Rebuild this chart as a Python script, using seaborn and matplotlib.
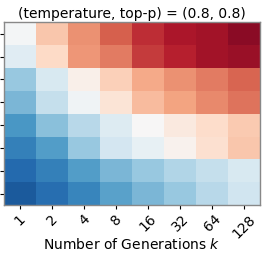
import numpy as np
import pandas as pd
import seaborn as sns
import matplotlib.pyplot as plt

# number of generations (columns) and 8 unlabeled rows
gens = [1, 2, 4, 8, 16, 32, 64, 128]

row0 = [0.49, 0.64, 0.73, 0.80, 0.87, 0.91, 0.92, 0.95]
row1 = [0.44, 0.60, 0.72, 0.76, 0.85, 0.89, 0.92, 0.93]
row2 = [0.31, 0.42, 0.53, 0.62, 0.69, 0.73, 0.76, 0.79]
row3 = [0.27, 0.38, 0.48, 0.57, 0.66, 0.70, 0.74, 0.77]
row4 = [0.21, 0.29, 0.36, 0.43, 0.50, 0.55, 0.59, 0.63]
row5 = [0.16, 0.22, 0.31, 0.41, 0.46, 0.52, 0.58, 0.64]
row6 = [0.11, 0.16, 0.22, 0.27, 0.31, 0.35, 0.38, 0.42]
row7 = [0.08, 0.12, 0.17, 0.23, 0.27, 0.31, 0.36, 0.40]

df = pd.DataFrame([row0, row1, row2, row3, row4, row5, row6, row7], columns=gens)

fig = plt.figure(figsize=(2.63, 2.63), dpi=100)
ax = fig.add_axes([0.015, 0.22, 0.975, 0.695])

sns.heatmap(df, cmap='RdBu_r', vmin=0, vmax=1, cbar=False, ax=ax,
            xticklabels=[str(g) for g in gens], yticklabels=[''] * 8)

for s in ax.spines.values():
    s.set_visible(True)
    s.set_color('#888888')
    s.set_linewidth(1)

ax.tick_params(axis='y', length=3, width=0.8)
ax.tick_params(axis='x', length=3, width=0.8, pad=2)
plt.setp(ax.get_xticklabels(), rotation=45, ha='center', fontsize=10)
ax.set_xlabel('Number of Generations $k$', fontsize=10, labelpad=-3)
ax.set_title('(temperature, top-p) = (0.8, 0.8)', fontsize=10, pad=3)

fig.savefig('out.png', dpi=100)
